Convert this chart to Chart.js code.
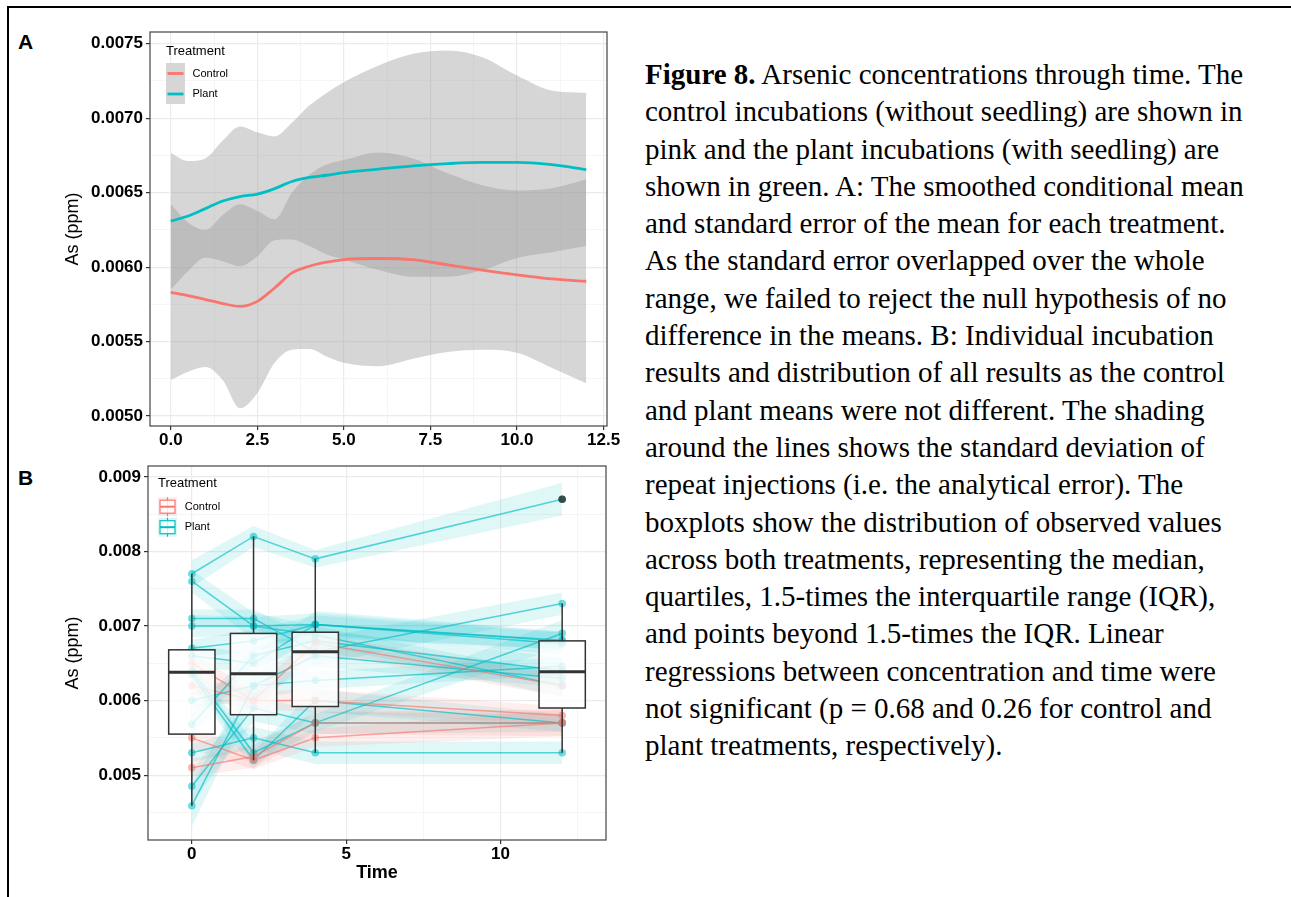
<!DOCTYPE html>
<html>
<head>
<meta charset="utf-8">
<title>Figure 8 - Arsenic concentrations through time</title>
<script src="https://cdn.jsdelivr.net/npm/chart.js@4.4.1/dist/chart.umd.min.js"></script>
<style>
  body { margin: 0; background: #fff; width: 1291px; height: 897px; overflow: hidden; position: relative; }
  .frame { position: absolute; left: 7px; top: 6px; width: 1300px; height: 900px; border-top: 2px solid #000; border-left: 2px solid #000; }
  .panel-label { position: absolute; left: 18px; font: bold 21px 'Liberation Sans', Arial, sans-serif; line-height: 21px; color: #000; }
  canvas { position: absolute; left: 0; }
  #caption { position: absolute; left: 645px; top: 56px; font-family: 'Liberation Serif', 'Times New Roman', serif; font-size: 29px; line-height: 37.3px; white-space: nowrap; color: #000; }
</style>
</head>
<body>
<div class="frame"></div>
<div class="panel-label" style="top:31px">A</div>
<div class="panel-label" style="top:467px">B</div>
<canvas id="chartA" width="630" height="450" style="top:0"></canvas>
<canvas id="chartB" width="630" height="447" style="top:450px"></canvas>
<div id="caption">
  <div><b>Figure 8.</b> Arsenic concentrations through time. The</div>
  <div>control incubations (without seedling) are shown in</div>
  <div>pink and the plant incubations (with seedling) are</div>
  <div>shown in green. A: The smoothed conditional mean</div>
  <div>and standard error of the mean for each treatment.</div>
  <div>As the standard error overlapped over the whole</div>
  <div>range, we failed to reject the null hypothesis of no</div>
  <div>difference in the means. B: Individual incubation</div>
  <div>results and distribution of all results as the control</div>
  <div>and plant means were not different. The shading</div>
  <div>around the lines shows the standard deviation of</div>
  <div>repeat injections (i.e. the analytical error). The</div>
  <div>boxplots show the distribution of observed values</div>
  <div>across both treatments, representing the median,</div>
  <div>quartiles, 1.5-times the interquartile range (IQR),</div>
  <div>and points beyond 1.5-times the IQR. Linear</div>
  <div>regressions between concentration and time were</div>
  <div>not significant (p = 0.68 and 0.26 for control and</div>
  <div>plant treatments, respectively).</div>
</div>
<script>
// Treatments
const treatments = ['Control', 'Plant'];
const controlColor = '248,118,109';
const plantColor = '0,191,196';

// Panel A: smoothed mean and standard error per treatment
const timeA = [0, 0.5, 1, 1.5, 2, 2.5, 3, 3.5, 4, 4.5, 5, 6, 7, 8, 9, 10, 11, 12];
const controlMean = [0.005831, 0.005809, 0.005782, 0.005755, 0.005736, 0.00577, 0.00586, 0.005961, 0.006006, 0.006033, 0.006051, 0.006058, 0.00605, 0.006015, 0.00598, 0.005948, 0.005921, 0.005905];
const controlUpper = [0.006422, 0.0063, 0.00625, 0.00635, 0.006422, 0.006377, 0.006321, 0.0065, 0.00662, 0.00669, 0.00672, 0.00677, 0.00673, 0.00663, 0.00655, 0.006515, 0.00653, 0.00659];
const controlLower = [0.005242, 0.005298, 0.00533, 0.005242, 0.005052, 0.005153, 0.005357, 0.005445, 0.00545, 0.0054, 0.005357, 0.005335, 0.005385, 0.00543, 0.005445, 0.005425, 0.005325, 0.00522];
const plantMean = [0.006309, 0.006343, 0.006393, 0.006444, 0.006474, 0.00649, 0.006527, 0.006575, 0.006602, 0.006617, 0.006635, 0.006658, 0.00668, 0.006695, 0.006703, 0.006703, 0.006688, 0.006655];
const plantUpper = [0.006766, 0.006712, 0.00673, 0.00685, 0.006945, 0.006905, 0.006878, 0.00697, 0.007085, 0.00717, 0.007242, 0.007354, 0.007433, 0.007455, 0.00741, 0.007287, 0.007186, 0.00717];
const plantLower = [0.005849, 0.005973, 0.006063, 0.00604, 0.006006, 0.006073, 0.006181, 0.006186, 0.006141, 0.006085, 0.006051, 0.00598, 0.005935, 0.005935, 0.00598, 0.006062, 0.0061, 0.006141];

// Panel B: individual incubations at each sampling time
const timeB = [0, 2, 4, 12];
const controlRuns = [
  [0.0065, 0.0060, 0.0060, 0.0058],
  [0.0062, 0.0060, 0.00677, 0.0062],
  [0.0055, 0.0052, 0.0055, 0.0057],
  [0.0051, 0.00525, 0.0057, 0.0057],
];
const controlSd = [
  [0.00015, 0.00012, 0.00015, 0.00012],
  [0.00012, 0.00015, 0.00012, 0.00015],
  [0.00015, 0.00012, 0.00012, 0.00018],
  [0.00012, 0.00015, 0.00015, 0.00018],
];
const plantRuns = [
  [0.0077, 0.0082, 0.0079, 0.0087],
  [0.0076, 0.0070, 0.00688, 0.0062],
  [0.0071, 0.0071, 0.00665, 0.0073],
  [0.0070, 0.0070, 0.00702, 0.0068],
  [0.0067, 0.0068, 0.00702, 0.00676],
  [0.0066, 0.0065, 0.00702, 0.00681],
  [0.0064, 0.0053, 0.0057, 0.0069],
  [0.00635, 0.0052, 0.0060, 0.0057],
  [0.0060, 0.0062, 0.00627, 0.00646],
  [0.00568, 0.0066, 0.0068, 0.0064],
  [0.0053, 0.0055, 0.0053, 0.0053],
  [0.00485, 0.0059, 0.0057, 0.0057],
  [0.00459, 0.0062, 0.0066, 0.0063],
];
const plantSd = [
  [0.00018, 0.00014, 0.00012, 0.00022],
  [0.00015, 0.00018, 0.00012, 0.00015],
  [0.00012, 0.00012, 0.00018, 0.00015],
  [0.00015, 0.00012, 0.00015, 0.00012],
  [0.00012, 0.00015, 0.00012, 0.00015],
  [0.00015, 0.00012, 0.00018, 0.00012],
  [0.00012, 0.00015, 0.00012, 0.00018],
  [0.00015, 0.00012, 0.00015, 0.00012],
  [0.00012, 0.00018, 0.00012, 0.00012],
  [0.00015, 0.00012, 0.00015, 0.00018],
  [0.00012, 0.00015, 0.00015, 0.00015],
  [0.00022, 0.00018, 0.00015, 0.00012],
  [0.00028, 0.00018, 0.00015, 0.00012],
];

// Boxplot summaries (all incubations pooled) at each sampling time
const boxLow = [0.00459, 0.0052, 0.0053, 0.0053];
const boxQ1 = [0.00555, 0.00581, 0.00592, 0.0059];
const boxMedian = [0.00638, 0.00636, 0.006655, 0.006385];
const boxQ3 = [0.00668, 0.0069, 0.006916, 0.0068];
const boxHigh = [0.0077, 0.0082, 0.0079, 0.0073];
const outlierTimes = [12];
const outlierValues = [0.0087];

const sansFont = "'Liberation Sans', Arial, sans-serif";
const boxHalfWidth = 0.75;

function rgba(c, a) {
  return 'rgba(' + c + ',' + a + ')';
}

function points(xs, ys) {
  return xs.map(function (x, i) {
    return { x: x, y: ys[i] };
  });
}

function isMajor(value, step) {
  const r = value / step;
  return Math.abs(r - Math.round(r)) < 1e-6;
}

// Axis with ggplot-like major/minor grid
function axisOptions(min, max, minorStep, majorStep, digits, fitSize, isY, title) {
  return {
    type: 'linear',
    min: min,
    max: max,
    afterFit: function (scale) {
      if (isY) scale.width = fitSize;
      else scale.height = fitSize;
    },
    border: { display: false },
    grid: {
      color: function (ctx) {
        return ctx.tick && isMajor(ctx.tick.value, majorStep) ? '#EBEBEB' : '#F0F0F0';
      },
      lineWidth: function (ctx) {
        return ctx.tick && isMajor(ctx.tick.value, majorStep) ? 1.2 : 0.7;
      },
      tickColor: function (ctx) {
        return ctx.tick && isMajor(ctx.tick.value, majorStep) ? '#333' : 'rgba(0,0,0,0)';
      },
      tickLength: 4,
    },
    ticks: {
      stepSize: minorStep,
      includeBounds: false,
      autoSkip: false,
      maxRotation: 0,
      padding: isY ? 3 : 0,
      color: '#000',
      font: { family: sansFont, size: 17, weight: 'bold' },
      callback: function (value) {
        return isMajor(value, majorStep) ? value.toFixed(digits) : '';
      },
    },
    title: title,
  };
}

const yTitle = {
  display: true,
  text: 'As (ppm)',
  color: '#000',
  font: { family: sansFont, size: 18 },
  padding: { top: 62 },
};

// Panel border drawn like theme_bw
const panelBorder = {
  id: 'panelBorder',
  afterDraw: function (chart) {
    const a = chart.chartArea;
    const ctx = chart.ctx;
    ctx.save();
    ctx.strokeStyle = '#444';
    ctx.lineWidth = 1.2;
    ctx.strokeRect(a.left, a.top, a.right - a.left, a.bottom - a.top);
    ctx.restore();
  },
};

// Legend for panel A: line keys on grey ribbon background
const legendA = {
  id: 'legendA',
  afterDraw: function (chart) {
    const ctx = chart.ctx;
    const colors = [controlColor, plantColor];
    ctx.save();
    ctx.fillStyle = '#000';
    ctx.textBaseline = 'middle';
    ctx.font = '13px ' + sansFont;
    ctx.fillText('Treatment', 166, 51);
    ctx.fillStyle = '#D6D6D6';
    ctx.fillRect(166, 63, 19, 41);
    ctx.font = '11px ' + sansFont;
    treatments.forEach(function (name, i) {
      const yk = 73.5 + i * 20.5;
      ctx.strokeStyle = rgba(colors[i], 1);
      ctx.lineWidth = 2.8;
      ctx.beginPath();
      ctx.moveTo(167.5, yk);
      ctx.lineTo(183.5, yk);
      ctx.stroke();
      ctx.fillStyle = '#000';
      ctx.fillText(name, 192.5, yk);
    });
    ctx.restore();
  },
};

// Legend for panel B: boxplot keys
const legendB = {
  id: 'legendB',
  afterDraw: function (chart) {
    const ctx = chart.ctx;
    const colors = [controlColor, plantColor];
    ctx.save();
    ctx.fillStyle = '#000';
    ctx.textBaseline = 'middle';
    ctx.font = '13px ' + sansFont;
    ctx.fillText('Treatment', 158, 33.5);
    ctx.font = '11px ' + sansFont;
    treatments.forEach(function (name, i) {
      const yk = 56.7 + i * 20.5;
      ctx.fillStyle = rgba(colors[i], 0.14);
      ctx.fillRect(158, yk - 9.5, 19, 19);
      ctx.strokeStyle = rgba(colors[i], 1);
      ctx.lineWidth = 1.2;
      ctx.beginPath();
      ctx.moveTo(167.5, yk - 9.5);
      ctx.lineTo(167.5, yk + 9.5);
      ctx.stroke();
      ctx.fillStyle = 'rgba(255,255,255,0.8)';
      ctx.fillRect(160, yk - 6.5, 15, 13);
      ctx.strokeRect(160, yk - 6.5, 15, 13);
      ctx.lineWidth = 2;
      ctx.beginPath();
      ctx.moveTo(160, yk);
      ctx.lineTo(175, yk);
      ctx.stroke();
      ctx.fillStyle = '#000';
      ctx.fillText(name, 184.7, yk);
    });
    ctx.restore();
  },
};

// Boxplots drawn over the incubation lines
const boxPlot = {
  id: 'boxPlot',
  afterDatasetsDraw: function (chart) {
    const ctx = chart.ctx;
    const x = chart.scales.x;
    const y = chart.scales.y;
    const a = chart.chartArea;
    ctx.save();
    ctx.beginPath();
    ctx.rect(a.left, a.top, a.right - a.left, a.bottom - a.top);
    ctx.clip();
    for (let i = 0; i < timeB.length; i++) {
      const xc = x.getPixelForValue(timeB[i]);
      const x0 = x.getPixelForValue(timeB[i] - boxHalfWidth);
      const x1 = x.getPixelForValue(timeB[i] + boxHalfWidth);
      const yq1 = y.getPixelForValue(boxQ1[i]);
      const yq3 = y.getPixelForValue(boxQ3[i]);
      ctx.strokeStyle = '#333';
      ctx.lineWidth = 1.5;
      ctx.beginPath();
      ctx.moveTo(xc, y.getPixelForValue(boxHigh[i]));
      ctx.lineTo(xc, yq3);
      ctx.moveTo(xc, yq1);
      ctx.lineTo(xc, y.getPixelForValue(boxLow[i]));
      ctx.stroke();
      ctx.fillStyle = 'rgba(255,255,255,0.8)';
      ctx.fillRect(x0, yq3, x1 - x0, yq1 - yq3);
      ctx.strokeRect(x0, yq3, x1 - x0, yq1 - yq3);
      const ym = y.getPixelForValue(boxMedian[i]);
      ctx.lineWidth = 3;
      ctx.beginPath();
      ctx.moveTo(x0, ym);
      ctx.lineTo(x1, ym);
      ctx.stroke();
    }
    ctx.fillStyle = 'rgba(40,40,40,0.8)';
    outlierTimes.forEach(function (t, i) {
      ctx.beginPath();
      ctx.arc(x.getPixelForValue(t), y.getPixelForValue(outlierValues[i]), 3.8, 0, Math.PI * 2);
      ctx.fill();
    });
    ctx.restore();
  },
};

// Chart A datasets
const bandStyle = {
  pointRadius: 0,
  borderWidth: 0,
  backgroundColor: 'rgba(153,153,153,0.4)',
  cubicInterpolationMode: 'monotone',
  order: 1,
};
const datasetsA = [
  {
    data: points(timeA, plantMean),
    borderColor: rgba(plantColor, 1),
    borderWidth: 2.8,
    pointRadius: 0,
    cubicInterpolationMode: 'monotone',
    fill: false,
    order: 0,
  },
  {
    data: points(timeA, controlMean),
    borderColor: rgba(controlColor, 1),
    borderWidth: 2.8,
    pointRadius: 0,
    cubicInterpolationMode: 'monotone',
    fill: false,
    order: 0,
  },
  Object.assign({ data: points(timeA, controlLower), fill: false }, bandStyle),
  Object.assign({ data: points(timeA, controlUpper), fill: '-1' }, bandStyle),
  Object.assign({ data: points(timeA, plantLower), fill: false }, bandStyle),
  Object.assign({ data: points(timeA, plantUpper), fill: '-1' }, bandStyle),
];

new Chart(document.getElementById('chartA'), {
  type: 'line',
  data: { datasets: datasetsA },
  options: {
    responsive: false,
    animation: false,
    devicePixelRatio: 1,
    layout: { padding: { left: 0, top: 32, right: 23, bottom: 0 } },
    plugins: { legend: { display: false }, tooltip: { enabled: false } },
    scales: {
      x: axisOptions(-0.6, 12.6, 1.25, 2.5, 1, 24, false, { display: false }),
      y: axisOptions(0.004933, 0.007579, 0.00025, 0.0005, 4, 150, true, yTitle),
    },
  },
  plugins: [panelBorder, legendA],
});

// Chart B datasets: lines and points first (on top), ribbons after
const lineSetsB = [];
const ribbonSetsB = [];
function addRuns(runs, sds, color) {
  runs.forEach(function (run, r) {
    lineSetsB.push({
      data: points(timeB, run),
      borderColor: rgba(color, 0.65),
      borderWidth: 1.5,
      pointRadius: 3.8,
      pointBorderWidth: 0,
      pointBackgroundColor: rgba(color, 0.55),
      fill: false,
      tension: 0,
      order: 0,
    });
    ribbonSetsB.push({
      data: points(timeB, run.map(function (v, i) { return v - sds[r][i]; })),
      pointRadius: 0,
      borderWidth: 0,
      fill: false,
      order: 1,
    });
    ribbonSetsB.push({
      data: points(timeB, run.map(function (v, i) { return v + sds[r][i]; })),
      pointRadius: 0,
      borderWidth: 0,
      backgroundColor: rgba(color, 0.12),
      fill: '-1',
      order: 1,
    });
  });
}
addRuns(controlRuns, controlSd, controlColor);
addRuns(plantRuns, plantSd, plantColor);

new Chart(document.getElementById('chartB'), {
  type: 'line',
  data: { datasets: lineSetsB.concat(ribbonSetsB) },
  options: {
    responsive: false,
    animation: false,
    devicePixelRatio: 1,
    layout: { padding: { left: 0, top: 16, right: 24, bottom: 0 } },
    plugins: { legend: { display: false }, tooltip: { enabled: false } },
    scales: {
      x: axisOptions(-1.42, 13.42, 2.5, 5, 0, 57, false, {
        display: true,
        text: 'Time',
        color: '#000',
        font: { family: sansFont, size: 18, weight: 'bold' },
        padding: { top: 0, bottom: 13 },
      }),
      y: axisOptions(0.00413, 0.009145, 0.0005, 0.001, 3, 148, true, yTitle),
    },
  },
  plugins: [boxPlot, panelBorder, legendB],
});
</script>
</body>
</html>
